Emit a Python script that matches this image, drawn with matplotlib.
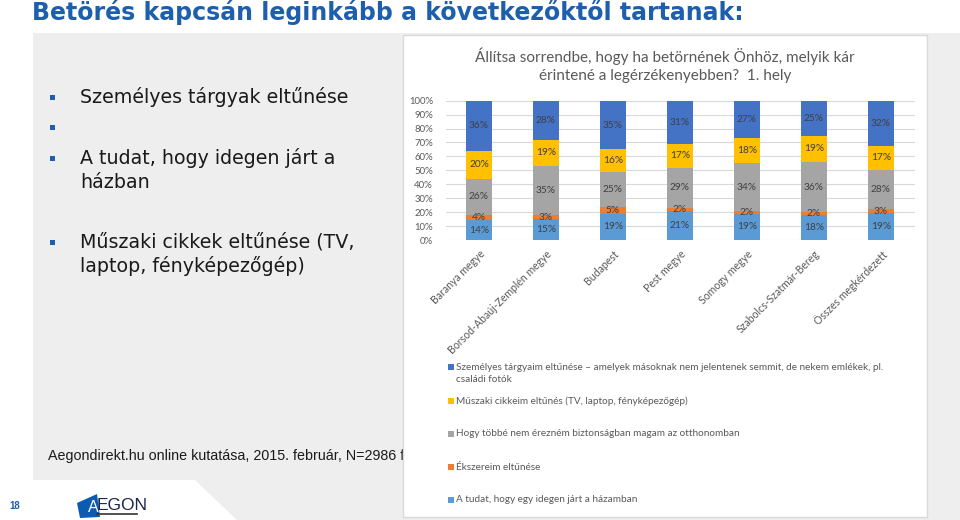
import numpy as np
import matplotlib.pyplot as plt
from matplotlib.patches import Polygon, Rectangle

# --- data -------------------------------------------------------------
categories = ["Baranya megye", "Borsod-Abaúj-Zemplén megye", "Budapest", "Pest megye",
              "Somogy megye", "Szabolcs-Szatmár-Bereg", "Összes megkérdezett"]

# stack order, bottom -> top
series_names = [
    "A tudat, hogy egy idegen járt a házamban",
    "Ékszereim eltűnése",
    "Hogy többé nem érezném biztonságban magam az otthonomban",
    "Műszaki cikkeim eltűnés (TV, laptop, fényképezőgép)",
    "Személyes tárgyaim eltűnése – amelyek másoknak nem jelentenek semmit, de nekem emlékek, pl.\ncsaládi fotók",
]
tudat = [14, 15, 19, 21, 19, 18, 19]
ekszer = [4, 3, 5, 2, 2, 2, 3]
biztonsag = [26, 35, 25, 29, 34, 36, 28]
muszaki = [20, 19, 16, 17, 18, 19, 17]
szemelyes = [36, 28, 35, 31, 27, 25, 32]
series_colors = ["#5b9bd5", "#ed7d31", "#a5a5a5", "#ffc000", "#4472c4"]

yticks = [0, 10, 20, 30, 40, 50, 60, 70, 80, 90, 100]

slide_title = "Betörés kapcsán leginkább a következőktől tartanak:"
chart_title = "Állítsa sorrendbe, hogy ha betörnének Önhöz, melyik kár\nérintené a legérzékenyebben?  1. hely"
bullets = ["Személyes tárgyak eltűnése", "", "A tudat, hogy idegen járt a\nházban",
           "Műszaki cikkek eltűnése (TV,\nlaptop, fényképezőgép)"]
source = "Aegondirekt.hu online kutatása, 2015. február, N=2986 fő"
page_no = "18"

CHART_FONT = ["Lato", "DejaVu Sans"]
SLIDE_FONT = ["Liberation Sans", "DejaVu Sans"]
GREY_TXT = "#595959"

fig = plt.figure(figsize=(9.6, 5.2), dpi=100)
fig.patch.set_facecolor("white")

# background axes in pixel coordinates
bg = fig.add_axes([0, 0, 1, 1])
bg.set_xlim(0, 960)
bg.set_ylim(520, 0)
bg.axis("off")

# grey content panel with the cut corner at the bottom
bg.add_patch(Polygon([(33, 33), (960, 33), (960, 520), (237, 520), (195, 480), (33, 480)],
                     closed=True, facecolor="#eeeeee", edgecolor="none", zorder=0))

bg.text(32, 12, slide_title, fontsize=17, fontweight="bold", color="#1d5fac",
        family=["DejaVu Sans"], va="center", ha="left")

# bullet list
bullet_y = [97, 127, 158, 242]
for text, y in zip(bullets, bullet_y):
    bg.add_patch(Rectangle((50, y - 2.5), 5, 5, facecolor="#1d5fac", edgecolor="none", zorder=1))
    for k, line in enumerate(text.split("\n")):
        bg.text(80, y + 24 * k, line, fontsize=13.7, color="#1a1a1a",
                family=["DejaVu Sans"], va="center", ha="left")

bg.text(48, 456, source, fontsize=10.3, color="#1a1a1a", family=SLIDE_FONT,
        va="center", ha="left", zorder=1)

# page number + logo
bg.text(9, 506, page_no, fontsize=7, fontweight="bold", color="#1d5fac",
        family=SLIDE_FONT, va="center", ha="left")
bg.add_patch(Polygon([(77, 503), (97, 494), (100, 517), (80, 518)], closed=True,
                     facecolor="#0c5bb0", edgecolor="none", zorder=1))
bg.text(93, 507, "A", fontsize=11.5, color="white", family=SLIDE_FONT,
        va="center", ha="center", zorder=2)
bg.text(97, 505, "EGON", fontsize=12.5, color="#1a2550", family=SLIDE_FONT,
        va="center", ha="left", zorder=2)
bg.plot([97, 137], [514, 514], color="#333333", lw=1.2, zorder=2)

# white chart box (drawn over the source line, which is clipped in the original)
bg.add_patch(Rectangle((403, 35), 524, 482, facecolor="white", edgecolor="#d9d9d9",
                       lw=1, zorder=3))
bg.text(665, 65, chart_title, fontsize=11, color=GREY_TXT, family=CHART_FONT,
        ha="center", va="center", linespacing=1.35, zorder=4)

# legend (top series first, as in Excel)
legend_y = [367, 401, 434, 467, 500]
for name, col, y in zip(series_names[::-1], series_colors[::-1], legend_y):
    bg.add_patch(Rectangle((448, y - 3), 6, 6, facecolor=col, edgecolor="none", zorder=4))
    for k, line in enumerate(name.split("\n")):
        bg.text(456, y + 13 * k, line, fontsize=7.2, color=GREY_TXT, family=CHART_FONT,
                va="center", ha="left", zorder=4)

# --- the 100% stacked bar chart -----------------------------------------
ax = fig.add_axes([445.5 / 960, 1 - 240 / 520, 469 / 960, 139.3 / 520])
ax.set_zorder(5)
ax.patch.set_alpha(0)

values = np.array([tudat, ekszer, biztonsag, muszaki, szemelyes], dtype=float)
shares = values / values.sum(axis=0)
x = np.arange(len(categories))
bottom = np.zeros(len(categories))
for vals, sh, col in zip(values, shares, series_colors):
    ax.bar(x, sh, width=0.39, bottom=bottom, color=col, zorder=3)
    for xi, b, s, v in zip(x, bottom, sh, vals):
        ax.text(xi, b + s / 2, f"{int(v)}%", ha="center", va="center", fontsize=7.3,
                color="#404040", family=CHART_FONT, zorder=4)
    bottom += sh

ax.set_xlim(-0.5, len(categories) - 0.5)
ax.set_ylim(0, 1)
ax.set_yticks([t / 100 for t in yticks])
ax.set_yticklabels([f"{t}%" for t in yticks], fontsize=6.9, color=GREY_TXT, family=CHART_FONT)
ax.set_xticks(x)
ax.set_xticklabels(categories, rotation=45, ha="right", va="top", rotation_mode="anchor",
                   fontsize=7.6, color=GREY_TXT, family=CHART_FONT)
ax.tick_params(length=0, pad=6)
ax.tick_params(axis="y", pad=9)
ax.yaxis.grid(True, color="#d9d9d9", lw=0.8)
ax.set_axisbelow(True)
for sp in ax.spines.values():
    sp.set_visible(False)

fig.savefig("out.png", dpi=100)
